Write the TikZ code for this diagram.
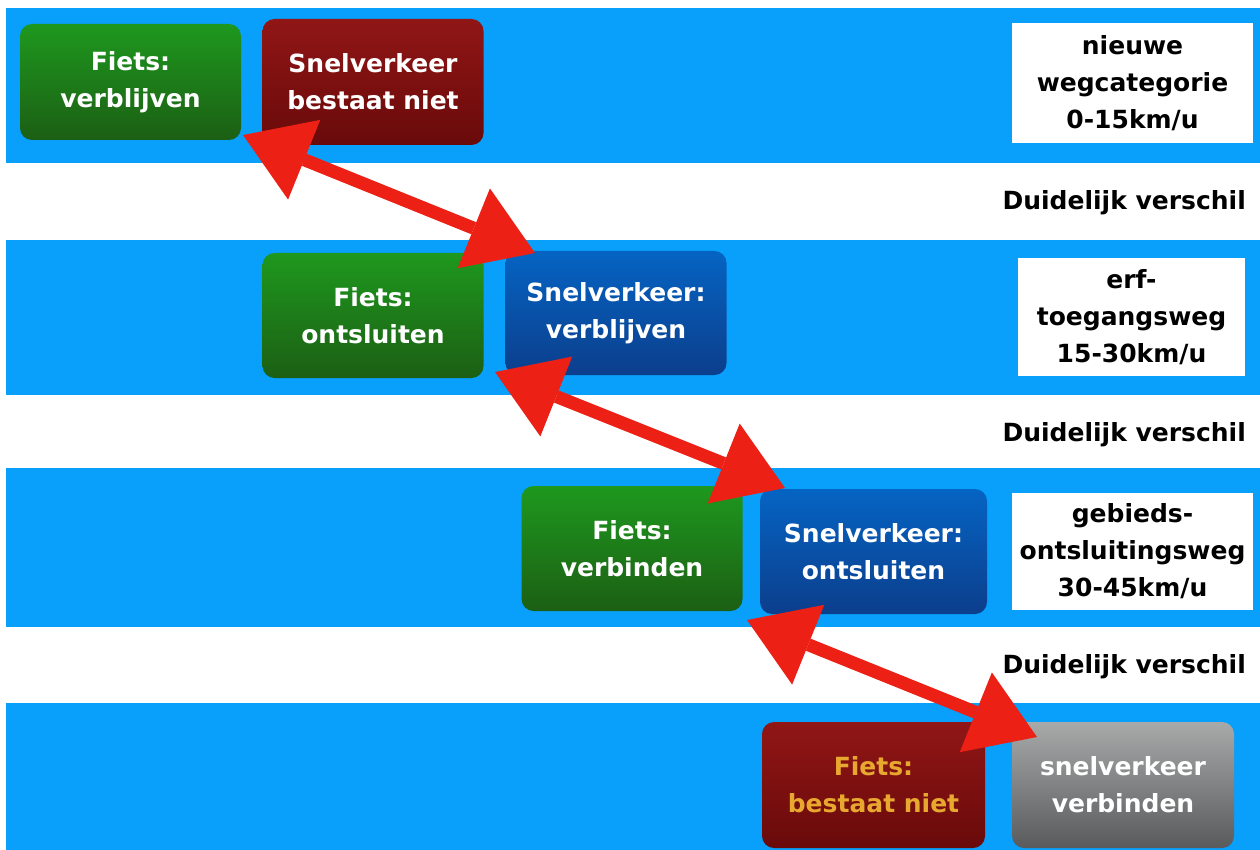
\documentclass[tikz,border=0pt]{standalone}
\usepackage{fontspec}
\setmainfont{DejaVu Sans}
\usetikzlibrary{arrows.meta}

\definecolor{bandblue}{RGB}{8,160,250}
\definecolor{greentop}{RGB}{30,152,30}
\definecolor{greenbot}{RGB}{28,95,20}
\definecolor{redtop}{RGB}{145,22,22}
\definecolor{redbot}{RGB}{105,10,10}
\definecolor{bluetop}{RGB}{5,100,195}
\definecolor{bluebot}{RGB}{12,62,140}
\definecolor{graytop}{RGB}{168,170,170}
\definecolor{graybot}{RGB}{88,90,92}
\definecolor{fietsorange}{RGB}{232,168,48}
\definecolor{pijlrood}{RGB}{236,32,20}

\begin{document}
\begin{tikzpicture}[x=1pt,y=-1pt,
    txt/.style={font=\fontsize{25}{37}\selectfont\bfseries, align=center, inner sep=0pt},
    box/.style={txt, rounded corners=12pt, text=white, minimum width=221pt, minimum height=125pt},
    groen/.style={box, top color=greentop, bottom color=greenbot},
    rood/.style={box, top color=redtop, bottom color=redbot},
    blauw/.style={box, top color=bluetop, bottom color=bluebot},
    grijs/.style={box, top color=graytop, bottom color=graybot},
    catbox/.style={txt, fill=white, minimum width=241pt, minimum height=119pt},
    verschil/.style={txt, anchor=east},
    biarrow/.style={draw=pijlrood, line width=13pt,
        {Triangle[length=66pt,width=86pt,line width=0pt]}-{Triangle[length=66pt,width=86pt,line width=0pt]}}]
    \useasboundingbox (0,0) rectangle (1260,850);

    % blauwe banden
    \foreach \top/\bot in {8/163, 240/395, 468/627, 703/850}
        \fill[bandblue] (6,\top) rectangle (1260,\bot);

    % rij 1
    \node[groen, minimum height=116pt] (fv) at (130.5,82) {Fiets:\\verblijven};
    \node[rood, minimum height=126pt] (sbn) at (373,82) {Snelverkeer\\bestaat niet};
    \node[catbox, minimum height=120pt] (cat1) at (1132.5,83) {nieuwe\\wegcategorie\\0-15km/u};

    % rij 2
    \node[groen] (fo) at (373,315.5) {Fiets:\\ontsluiten};
    \node[blauw, minimum height=124pt] (sv) at (616,313) {Snelverkeer:\\verblijven};
    \node[catbox, minimum width=227pt, minimum height=118pt] (cat2) at (1131.5,317) {erf-\\toegangsweg\\15-30km/u};

    % rij 3
    \node[groen] (fvb) at (632,548.5) {Fiets:\\verbinden};
    \node[blauw, minimum width=227pt] (so) at (873.5,551.5) {Snelverkeer:\\ontsluiten};
    \node[catbox, minimum height=117pt] (cat3) at (1132.5,551.5) {gebieds-\\ontsluitingsweg\\30-45km/u};

    % rij 4
    \node[rood, text=fietsorange, minimum width=223pt, minimum height=126pt] (fbn) at (873.5,785) {Fiets:\\bestaat niet};
    \node[grijs, minimum width=222pt, minimum height=126pt] (svb) at (1123,785) {snelverkeer\\verbinden};

    \foreach \y [count=\i] in {203, 435, 667}
        \node[verschil] (dv\i) at (1246,\y) {Duidelijk verschil};

    % pijlen
    \coordinate (p1a) at (243,135);
    \coordinate (p1b) at (535,253);
    \coordinate (p2a) at (495,372);
    \coordinate (p2b) at (785,488);
    \coordinate (p3a) at (747,620);
    \coordinate (p3b) at (1037,737);
    \draw[biarrow] (p1a) -- (p1b);
    \draw[biarrow] (p2a) -- (p2b);
    \draw[biarrow] (p3a) -- (p3b);
\end{tikzpicture}
\end{document}
